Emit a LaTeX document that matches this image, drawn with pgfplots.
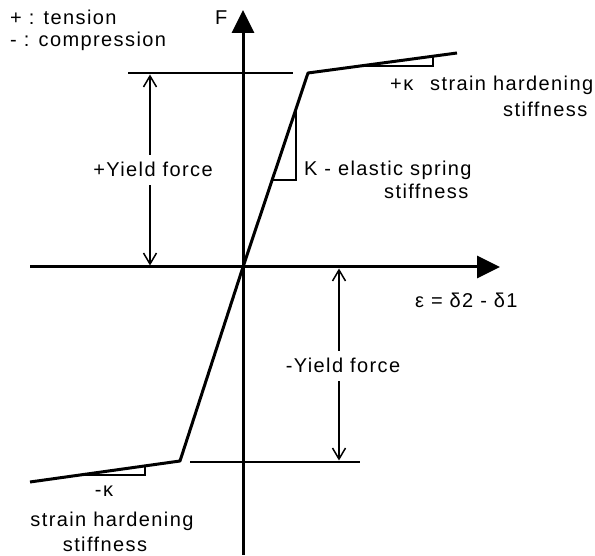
\documentclass[border=0pt]{standalone}
\usepackage{fontspec}
\setmainfont{Liberation Sans}[LetterSpace=7]
\usepackage{pgfplots}
\pgfplotsset{compat=1.18}
\usetikzlibrary{arrows.meta}
\tikzset{lbl/.style={font=\fontsize{20bp}{24bp}\selectfont, inner sep=0pt}}
\begin{document}
\begin{tikzpicture}
\begin{axis}[scale only axis, width=595bp, height=556bp,
  xmin=-243, xmax=352, ymin=-289, ymax=267,
  hide axis, clip=false]
% axes
\addplot[line width=3bp, black, -{Triangle[length=23bp,width=22bp]}] coordinates {(-213,0) (257,0)};
\addplot[line width=3bp, black, -{Triangle[length=23bp,width=22bp]}] coordinates {(0,-288) (0,257)};
% yield levels
\addplot[line width=2.3bp, black] coordinates {(-115,194) (50,194)};
\addplot[line width=2.3bp, black] coordinates {(-53,-195) (117,-195)};
% force-strain curve
\addplot[line width=3bp, black, line join=round] coordinates {(-213,-215) (-63,-194) (0,0) (65,194) (214,214)};
% slope triangles
\addplot[line width=1.3bp, black] coordinates {(29,87) (53,87) (53,158)};
\addplot[line width=1.3bp, black] coordinates {(117,201) (190,201) (190,210.5)};
\addplot[line width=1.3bp, black] coordinates {(-165,-208) (-98,-208) (-98,-198)};
% yield arrows
\addplot[line width=1.5bp, black, {Straight Barb[length=11bp,width=13bp]}-{Straight Barb[length=11bp,width=13bp]}] coordinates {(-93,1.5) (-93,192.5)};
\addplot[line width=1.5bp, black, {Straight Barb[length=11bp,width=13bp]}-{Straight Barb[length=11bp,width=13bp]}] coordinates {(96,-1.5) (96,-193.5)};
% labels
\node[lbl, anchor=base west] at (axis cs:-233,242) {+ : tension};
\node[lbl, anchor=base west] at (axis cs:-233,220) {- : compression};
\node[lbl, anchor=base west] at (axis cs:-28,242) {F};
\node[lbl, anchor=base, fill=white, inner xsep=3bp, inner ysep=8bp] at (axis cs:-90,90) {+Yield force};
\node[lbl, anchor=base, fill=white, inner xsep=3bp, inner ysep=8bp] at (axis cs:100,-106) {-Yield force};
\node[lbl, anchor=base west] at (axis cs:61,91) {K - elastic spring};
\node[lbl, anchor=base west] at (axis cs:141,68) {stiffness};
\node[lbl, anchor=base west] at (axis cs:147,176) {+κ};
\node[lbl, anchor=base west] at (axis cs:187,176) {strain hardening};
\node[lbl, anchor=base west] at (axis cs:260,150) {stiffness};
\node[lbl, anchor=base west] at (axis cs:172,-41) {ε = δ2 - δ1};
\node[lbl, anchor=base] at (axis cs:-139,-230) {-κ};
\node[lbl, anchor=base] at (axis cs:-131,-259) {strain hardening};
\node[lbl, anchor=base] at (axis cs:-138,-284) {stiffness};
\end{axis}
\pgfresetboundingbox
\path (current axis.south west) rectangle (current axis.north east);
\end{tikzpicture}
\end{document}
